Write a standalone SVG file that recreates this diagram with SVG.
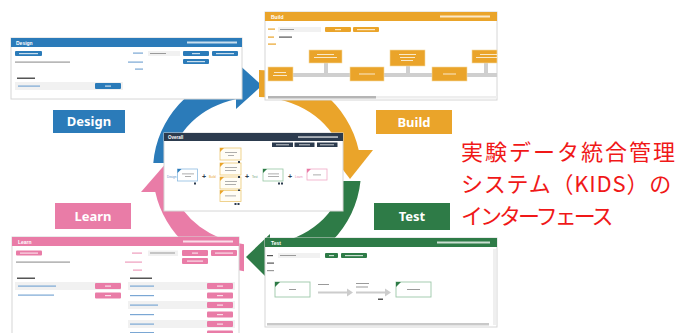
<svg xmlns="http://www.w3.org/2000/svg" width="683" height="333" viewBox="0 0 683 333">
<style>
.win{fill:#fff;stroke:#d6d6d6;stroke-width:1}
.lbl{font-family:"Noto Sans","DejaVu Sans",sans-serif;font-weight:bold;font-size:13px;fill:#fff;text-anchor:middle}
.wt{font-family:"Liberation Sans",sans-serif;font-size:5px;fill:#fff;font-weight:bold}
.ft{font-family:"Liberation Sans",sans-serif;font-size:3px}
.jp{font-family:"Noto Sans CJK JP",sans-serif;font-size:22px;fill:#f01818}
.bw{fill:#fff;opacity:.75}
.in{fill:#f1f1f1}
.tx{fill:#9a9a9a}
.dk{fill:#555}
.b{fill:#2b7bb9}.o{fill:#eaa42a}.g{fill:#2e7b47}.p{fill:#e97ca7}.n{fill:#2c3b4e}
</style>

<g id="cycle">
  <g id="arc-design">
    <path class="b" d="M153.3 163 A104 101 0 0 1 236 72.1 L236 99.2 A87 74 0 0 0 170.5 163 Z"/>
    <polygon class="b" points="236,62 236,109 262,85.5"/>
  </g>
  <g id="arc-build">
    <path class="o" d="M259 70 A104 101 0 0 1 358.7 150 L340.4 150 A87 74 0 0 0 259 97 Z"/>
    <polygon class="o" points="328,150 373,150 350,179"/>
  </g>
  <g id="arc-test">
    <path class="g" d="M360.5 181 A104 101 0 0 1 270 271.2 L270 244.2 A87 74 0 0 0 343.2 181 Z"/>
    <polygon class="g" points="270,234 270,281 246,257"/>
  </g>
  <g id="arc-learn">
    <path class="p" d="M244 271.2 A104 101 0 0 1 155.3 192 L173.6 192 A87 74 0 0 0 244 244.2 Z"/>
    <polygon class="p" points="141,192 188,192 164.5,165"/>
  </g>
</g>

<g id="label-design"><rect class="b" x="53" y="110" width="72" height="23"/><text class="lbl" x="89" y="126">Design</text></g>
<g id="label-build"><rect class="o" x="376" y="110" width="76" height="24"/><text class="lbl" x="414" y="126.5">Build</text></g>
<g id="label-learn"><rect class="p" x="55" y="203" width="76" height="26"/><text class="lbl" x="93" y="220.5">Learn</text></g>
<g id="label-test"><rect class="g" x="374" y="203" width="76" height="27"/><text class="lbl" x="412" y="221">Test</text></g>

<g id="design-window">
  <rect class="win" x="11" y="38" width="231" height="61"/>
  <rect class="b" x="11" y="38" width="231" height="9"/>
  <text class="wt" x="16" y="44.5">Design</text>
  <rect class="bw" x="187" y="41.5" width="50" height="2"/>
  <rect class="b" x="15" y="51" width="27" height="5" rx="1"/><rect class="bw" x="19" y="53" width="19" height="1.2"/>
  <rect class="tx" x="15" y="61.5" width="55" height="1.2"/>
  <rect fill="#7aa7d4" x="133" y="52.5" width="10" height="1.2"/>
  <rect fill="#7aa7d4" x="128" y="61.5" width="15" height="1.2"/>
  <rect fill="#7aa7d4" x="135" y="68.5" width="8" height="1.2"/>
  <rect class="in" x="148" y="51" width="32" height="5"/><rect class="tx" x="150" y="53" width="16" height="1"/>
  <rect class="b" x="183" y="51" width="26" height="5" rx="1"/><rect class="bw" x="192" y="53" width="8" height="1.2"/>
  <rect class="b" x="212" y="51" width="26" height="5" rx="1"/><rect class="bw" x="216" y="53" width="18" height="1.2"/>
  <rect class="b" x="183" y="59" width="26" height="5" rx="1"/><rect class="bw" x="187" y="61" width="18" height="1.2"/>
  <rect class="dk" x="17" y="77.5" width="18" height="1.5"/>
  <rect class="in" x="15" y="82" width="108" height="8"/>
  <rect fill="#7aa7d4" x="18" y="85.5" width="22" height="1.2"/>
  <rect class="b" x="95" y="83" width="26" height="6" rx="1"/><rect class="bw" x="105" y="85.5" width="6" height="1.2"/>
</g>

<g id="build-window">
  <rect class="win" x="265" y="12" width="232" height="88"/>
  <rect class="o" x="265" y="12" width="232" height="9"/>
  <text class="wt" x="271" y="18.5">Build</text>
  <rect class="bw" x="440" y="15.5" width="50" height="2"/>
  <rect class="o" x="268" y="28.5" width="7" height="1.2"/>
  <rect class="in" x="278" y="27" width="43" height="5"/><rect class="tx" x="280" y="29" width="14" height="1"/>
  <rect class="o" x="325" y="27" width="26" height="5" rx="1"/><rect class="bw" x="335" y="29" width="6" height="1.2"/>
  <rect class="o" x="353" y="27" width="26" height="5" rx="1"/><rect class="bw" x="357" y="29" width="18" height="1.2"/>
  <rect class="o" x="268" y="36.5" width="6" height="1.2"/><rect class="dk" x="279" y="36.5" width="13" height="1.2"/>
  <rect class="o" x="268" y="43.5" width="8" height="1.2"/>
  <rect fill="#cfcfcf" x="268" y="73" width="229" height="4"/>
  <rect fill="#cfcfcf" x="324" y="63" width="4" height="12"/>
  <rect fill="#cfcfcf" x="406" y="66" width="4" height="9"/>
  <rect fill="#cfcfcf" x="484" y="63" width="4" height="12"/>
  <g fill="#eaa42a" stroke="#f6d9a0" stroke-width="0.6">
    <rect x="268" y="67" width="25" height="14"/>
    <rect x="309" y="50" width="33" height="13"/>
    <rect x="350" y="67" width="34" height="14"/>
    <rect x="390" y="50" width="35" height="16"/>
    <rect x="432" y="67" width="35" height="14"/>
    <rect x="472" y="50" width="25" height="13"/>
  </g>
  <g class="bw">
    <rect x="274" y="72" width="12" height="1"/><rect x="273" y="75" width="14" height="1"/>
    <rect x="317" y="54" width="17" height="1"/><rect x="314" y="57" width="23" height="1"/>
    <rect x="359" y="73.5" width="16" height="1"/>
    <rect x="399" y="54" width="17" height="1"/><rect x="400" y="57" width="15" height="1"/><rect x="401" y="60" width="12" height="1"/>
    <rect x="443" y="73.5" width="13" height="1"/>
    <rect x="480" y="54" width="17" height="1"/><rect x="476" y="57" width="21" height="1"/>
  </g>
  <rect fill="#eeeeee" x="268" y="96" width="229" height="2.5"/>
  <rect fill="#b5b5b5" x="268" y="96" width="108" height="2.5"/>
</g>

<g id="overall-window">
  <rect class="win" x="164" y="133" width="179" height="78"/>
  <rect class="n" x="164" y="133" width="179" height="8"/>
  <text class="wt" x="168" y="138.6" style="font-size:4.5px">Overall</text>
  <rect class="bw" x="298" y="136.3" width="40" height="1.5"/>
  <rect class="n" x="272" y="142.5" width="21" height="4.5"/><rect class="bw" x="276" y="144.3" width="13" height="1"/>
  <rect class="n" x="294.5" y="142.5" width="20" height="4.5"/><rect class="bw" x="299" y="144.3" width="11" height="1"/>
  <rect class="n" x="317" y="142.5" width="20.5" height="4.5"/><rect class="bw" x="320" y="144.3" width="14" height="1"/>
  <text class="ft" x="167" y="178" fill="#5a8fc6">Design</text>
  <rect x="177.5" y="169" width="20" height="12" fill="#fff" stroke="#8dbbe2" stroke-width="0.8"/>
  <polygon class="b" points="177.5,169 181.5,169 177.5,173"/>
  <rect class="tx" x="182" y="173.5" width="12" height="0.8"/><rect class="tx" x="185" y="176" width="6" height="0.8"/>
  <rect class="n" x="194" y="182.5" width="2" height="2"/>
  <text x="204" y="179" font-family="Liberation Sans,sans-serif" font-size="7" font-weight="bold" fill="#2c3b4e" text-anchor="middle">+</text>
  <text class="ft" x="209" y="178" fill="#eaa42a">Build</text>
  <g fill="#fffdf6" stroke="#ecc774" stroke-width="0.8">
    <rect x="220" y="148" width="21" height="12"/>
    <rect x="220" y="163" width="21" height="12"/>
    <rect x="220" y="177" width="21" height="12"/>
    <rect x="220" y="190.5" width="21" height="11"/>
  </g>
  <g class="o">
    <polygon points="220,148 224,148 220,152"/><polygon points="220,163 224,163 220,167"/>
    <polygon points="220,177 224,177 220,181"/><polygon points="220,190.5 224,190.5 220,194.5"/>
  </g>
  <g class="tx">
    <rect x="225" y="152" width="12" height="0.8"/><rect x="228" y="155" width="6" height="0.8"/>
    <rect x="225" y="167" width="12" height="0.8"/><rect x="225" y="170" width="11" height="0.8"/>
    <rect x="225" y="181" width="12" height="0.8"/><rect x="225" y="184" width="11" height="0.8"/>
    <rect x="225" y="195.5" width="11" height="0.8"/>
  </g>
  <g class="n">
    <rect x="238" y="161" width="2" height="2"/><rect x="238" y="176" width="2" height="2"/>
    <rect x="238" y="189.5" width="2" height="1.5"/><rect x="234.5" y="203" width="2" height="2"/><rect x="237.5" y="203" width="2" height="2"/>
  </g>
  <text x="247" y="179" font-family="Liberation Sans,sans-serif" font-size="7" font-weight="bold" fill="#2c3b4e" text-anchor="middle">+</text>
  <text class="ft" x="252" y="178" fill="#6a9e78">Test</text>
  <rect x="263" y="169" width="20" height="12" fill="#fff" stroke="#96c7a4" stroke-width="0.8"/>
  <polygon class="g" points="263,169 267,169 263,173"/>
  <rect class="tx" x="268" y="173.5" width="11" height="0.8"/><rect class="tx" x="268" y="176" width="11" height="0.8"/>
  <rect class="n" x="278" y="182.5" width="2" height="2"/><rect class="n" x="281" y="182.5" width="2" height="2"/>
  <text x="290" y="179" font-family="Liberation Sans,sans-serif" font-size="7" font-weight="bold" fill="#2c3b4e" text-anchor="middle">+</text>
  <text class="ft" x="295" y="178" fill="#e98bb1">Learn</text>
  <rect x="307" y="169" width="20" height="11" fill="#fff" stroke="#f1a9c5" stroke-width="0.8"/>
  <polygon class="p" points="307,169 311,169 307,173"/>
  <rect class="tx" x="313" y="174.5" width="8" height="0.8"/>
</g>

<g id="test-window">
  <rect class="win" x="265" y="238" width="232" height="89"/>
  <rect class="g" x="265" y="238" width="232" height="9"/>
  <text class="wt" x="271" y="244.5">Test</text>
  <rect class="bw" x="437" y="241.5" width="53" height="2"/>
  <rect class="dk" x="267" y="255" width="6" height="1.2"/>
  <rect class="in" x="278" y="253" width="42" height="5"/><rect class="tx" x="280" y="255" width="16" height="1"/>
  <rect class="g" x="325" y="253" width="13" height="5" rx="1"/><rect class="bw" x="329" y="255" width="5" height="1.2"/>
  <rect class="g" x="341" y="253" width="26" height="5" rx="1"/><rect class="bw" x="345" y="255" width="18" height="1.2"/>
  <rect class="dk" x="267" y="262.5" width="7" height="1.2"/>
  <rect class="tx" x="267" y="270" width="7" height="1.2"/>
  <rect x="275" y="282" width="35" height="15" fill="#fff" stroke="#9cc7a8" stroke-width="0.9"/>
  <polygon class="g" points="275,282 280,282 275,287"/>
  <rect class="tx" x="289" y="289" width="7" height="1"/>
  <rect class="tx" x="318" y="284" width="11" height="1"/>
  <rect fill="#cccccc" x="318" y="291.5" width="30" height="2"/>
  <polygon fill="#cccccc" points="347,288.5 353,292.5 347,296.5"/>
  <rect class="tx" x="356" y="283" width="13" height="1"/><rect class="tx" x="356" y="286.5" width="12" height="1"/>
  <rect fill="#cccccc" x="356" y="291.5" width="30" height="2"/>
  <polygon fill="#cccccc" points="385,288.5 391,292.5 385,296.5"/>
  <rect class="dk" x="378" y="298.5" width="5" height="1.5"/>
  <rect x="396" y="282" width="35" height="15" fill="#fff" stroke="#9cc7a8" stroke-width="0.9"/>
  <polygon class="g" points="396,282 401,282 396,287"/>
  <rect class="tx" x="407" y="289" width="13" height="1"/>
  <rect fill="#efefef" x="493" y="249" width="3" height="76"/>
  <rect fill="#c9c9c9" x="267" y="323" width="222" height="2.5"/>
</g>

<g id="learn-window">
  <rect class="win" x="12" y="237" width="227" height="100"/>
  <rect class="p" x="12" y="237" width="227" height="9"/>
  <text class="wt" x="18" y="243.5">Learn</text>
  <rect class="bw" x="183" y="240.5" width="50" height="2"/>
  <rect class="p" x="16" y="250.5" width="26" height="5" rx="1"/><rect class="bw" x="20" y="252.5" width="18" height="1.2"/>
  <rect class="tx" x="16" y="261.5" width="54" height="1.2"/>
  <rect fill="#ee9dbd" x="132" y="252.5" width="10" height="1.2"/>
  <rect fill="#ee9dbd" x="125" y="261.5" width="17" height="1.2"/>
  <rect fill="#ee9dbd" x="133" y="269.5" width="9" height="1.2"/>
  <rect class="in" x="148" y="250.5" width="30" height="5.5"/><rect class="tx" x="150" y="252.5" width="25" height="1"/>
  <rect class="p" x="182" y="250" width="26" height="6" rx="1"/><rect class="bw" x="192" y="252.5" width="6" height="1.2"/>
  <rect class="p" x="211" y="250" width="26" height="6" rx="1"/><rect class="bw" x="215" y="252.5" width="18" height="1.2"/>
  <rect class="p" x="182" y="258" width="26" height="6" rx="1"/><rect class="bw" x="187" y="260.5" width="16" height="1.2"/>
  <rect class="dk" x="17" y="277.5" width="18" height="1.5"/>
  <rect class="in" x="15" y="282" width="106" height="8"/>
  <rect fill="#7aa7d4" x="18" y="285.5" width="38" height="1.2"/>
  <rect class="p" x="95" y="283" width="26" height="6" rx="1"/><rect class="bw" x="105" y="285.5" width="6" height="1.2"/>
  <rect fill="#7aa7d4" x="18" y="294.5" width="36" height="1.2"/>
  <rect class="p" x="95" y="292.5" width="26" height="6" rx="1"/><rect class="bw" x="105" y="295" width="6" height="1.2"/>
  <rect class="dk" x="130" y="277.5" width="22" height="1.5"/>
  <g class="in">
    <rect x="128" y="282" width="107" height="8"/><rect x="128" y="301" width="107" height="8"/>
    <rect x="128" y="320" width="107" height="8"/>
  </g>
  <g fill="#7aa7d4">
    <rect x="130" y="285.5" width="24" height="1.2"/><rect x="130" y="295" width="24" height="1.2"/>
    <rect x="130" y="304.5" width="28" height="1.2"/><rect x="130" y="314" width="24" height="1.2"/>
    <rect x="130" y="323.5" width="24" height="1.2"/><rect x="130" y="332" width="24" height="1.2"/>
  </g>
  <g class="p">
    <rect x="207" y="283" width="26" height="6" rx="1"/><rect x="207" y="292.5" width="26" height="6" rx="1"/>
    <rect x="207" y="302" width="26" height="6" rx="1"/><rect x="207" y="311.5" width="26" height="6" rx="1"/>
    <rect x="207" y="321" width="26" height="6" rx="1"/><rect x="207" y="330.5" width="26" height="6" rx="1"/>
  </g>
  <g class="bw">
    <rect x="217" y="285.5" width="6" height="1.2"/><rect x="217" y="295" width="6" height="1.2"/>
    <rect x="217" y="304.5" width="6" height="1.2"/><rect x="217" y="314" width="6" height="1.2"/>
    <rect x="217" y="323.5" width="6" height="1.2"/>
  </g>
</g>

<g id="caption">
  <text class="jp" x="461" y="160" letter-spacing="2">実験データ統合管理</text>
  <text class="jp" x="461" y="192" letter-spacing="0.8">システム（KIDS）の</text>
  <text class="jp" x="461" y="224" letter-spacing="-3">インターフェース</text>
</g>
</svg>
